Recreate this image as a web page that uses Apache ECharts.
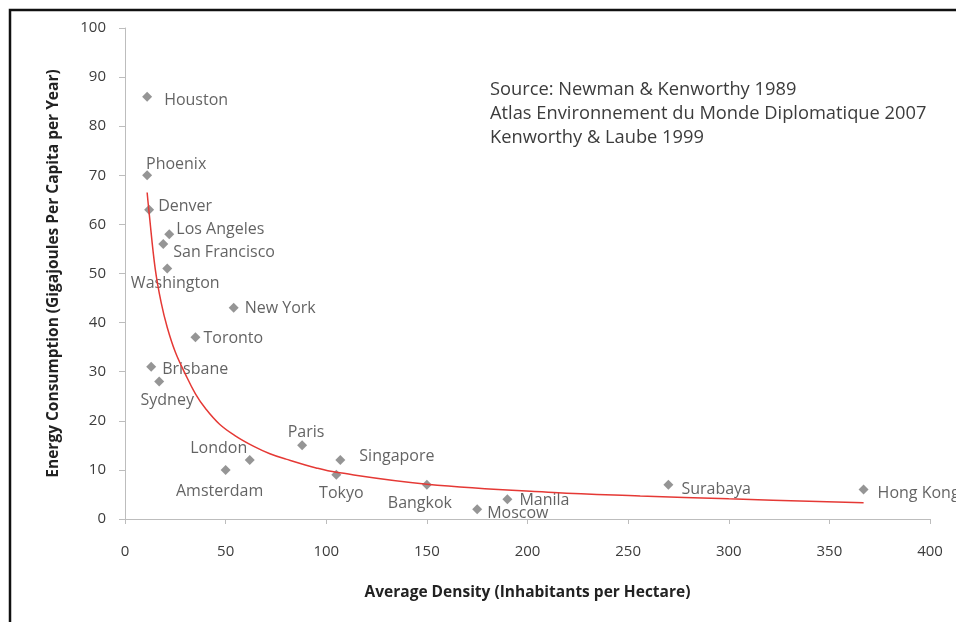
<!DOCTYPE html>
<html>
<head>
<meta charset="utf-8">
<script src="https://cdn.jsdelivr.net/npm/echarts@6/dist/echarts.min.js"></script>
<style>
  html, body { margin: 0; padding: 0; background: #fff; }
  #main { width: 956px; height: 622px; }
</style>
</head>
<body>
<div id="main"></div>
<script>
// cities
const cities = ['Houston', 'Phoenix', 'Denver', 'Los Angeles', 'San Francisco', 'Washington',
  'New York', 'Toronto', 'Brisbane', 'Sydney', 'London', 'Amsterdam', 'Paris', 'Singapore',
  'Tokyo', 'Bangkok', 'Moscow', 'Manila', 'Surabaya', 'Hong Kong']
const density = [11, 11, 12, 22, 19, 21, 54, 35, 13, 17, 62, 50, 88, 107, 105, 150, 175, 190, 270, 367]
const energy = [86, 70, 63, 58, 56, 51, 43, 37, 31, 28, 12, 10, 15, 12, 9, 7, 2, 4, 7, 6]

// red trend line
const trendX = [11, 12, 15, 18, 21, 25, 30, 35, 40, 47, 55, 64, 72, 80, 95, 105, 150, 213, 256, 300, 367]
const trendY = [66.5, 62.3, 51, 44, 39, 34, 29.5, 25.5, 22.5, 19.3, 16.9, 14.8, 13.3, 12.2, 10.4, 9.5, 7.1, 5.4, 4.7, 4.1, 3.3]

const sourceLines = ['Source: Newman & Kenworthy 1989', 'Atlas Environnement du Monde Diplomatique 2007', 'Kenworthy & Laube 1999']

// where each label sits next to its marker
const labelSpots = {
  'Houston': ['right', 7, 4],
  'Phoenix': ['top', 29, 7],
  'Denver': ['right', -1, -3],
  'Los Angeles': ['right', -3, -5],
  'San Francisco': ['right', 0, 8],
  'Washington': ['bottom', 8, -3],
  'New York': ['right', 1, 1],
  'Toronto': ['right', -2, 1],
  'Brisbane': ['right', 1, 3],
  'Sydney': ['bottom', 8, 1],
  'London': ['top', -31, 6],
  'Amsterdam': ['bottom', -6, 4],
  'Paris': ['top', 4, 5],
  'Singapore': ['right', 9, -4],
  'Tokyo': ['bottom', 5, 1],
  'Bangkok': ['bottom', -7, 1],
  'Moscow': ['right', 0, 4],
  'Manila': ['right', 2, 1],
  'Surabaya': ['right', 3, 5],
  'Hong Kong': ['right', 4, 4]
}

const font = '"Open Sans", Lato, sans-serif'
const textColor = '#3c3c3c'
const axisColor = '#bdbdbd'

const points = cities.map((name, i) => {
  const spot = labelSpots[name]
  return {
    name: name,
    value: [density[i], energy[i]],
    label: { position: spot[0], offset: [spot[1], spot[2]] }
  }
})

const chart = echarts.init(document.getElementById('main'))
chart.setOption({
  backgroundColor: '#fff',
  animation: false,
  grid: { left: 125, right: 26, top: 28, bottom: 103 },
  xAxis: {
    type: 'value',
    min: 0,
    max: 400,
    interval: 50,
    name: 'Average Density (Inhabitants per Hectare)',
    nameLocation: 'middle',
    nameGap: 66,
    nameTextStyle: { fontFamily: font, fontWeight: 'bold', fontSize: 15.5, color: '#222' },
    axisLine: { show: true, lineStyle: { color: axisColor } },
    axisTick: { show: true, length: 5, lineStyle: { color: axisColor } },
    axisLabel: { margin: 25, fontFamily: font, fontSize: 15, color: textColor },
    splitLine: { show: false }
  },
  yAxis: {
    type: 'value',
    min: 0,
    max: 100,
    interval: 10,
    name: 'Energy Consumption (Gigajoules Per Capita per Year)',
    nameLocation: 'middle',
    nameGap: 63,
    nameTextStyle: { fontFamily: font, fontWeight: 'bold', fontSize: 15.5, color: '#222' },
    axisLine: { show: true, lineStyle: { color: axisColor } },
    axisTick: { show: true, inside: false, length: 6, lineStyle: { color: axisColor } },
    axisLabel: { margin: 19, fontFamily: font, fontSize: 15, color: textColor },
    splitLine: { show: false }
  },
  series: [
    {
      type: 'scatter',
      symbol: 'diamond',
      symbolSize: 10,
      itemStyle: { color: '#7b7b7b' },
      label: {
        show: true,
        formatter: '{b}',
        fontFamily: font,
        fontSize: 16,
        color: textColor
      },
      data: points,
      z: 2
    },
    {
      type: 'line',
      data: trendX.map((x, i) => [x, trendY[i]]),
      smooth: 0.4,
      showSymbol: false,
      lineStyle: { color: '#e53935', width: 1.5 },
      z: 3
    }
  ],
  graphic: [
    {
      type: 'rect',
      shape: { x: 10, y: 10, width: 1000, height: 700 },
      style: { fill: 'none', stroke: '#111', lineWidth: 2.5 },
      silent: true
    },
    {
      type: 'text',
      left: 490,
      top: 78,
      style: {
        text: sourceLines.join('\n'),
        font: '18.3px ' + font,
        lineHeight: 24,
        fill: textColor
      }
    }
  ]
})
</script>
</body>
</html>
